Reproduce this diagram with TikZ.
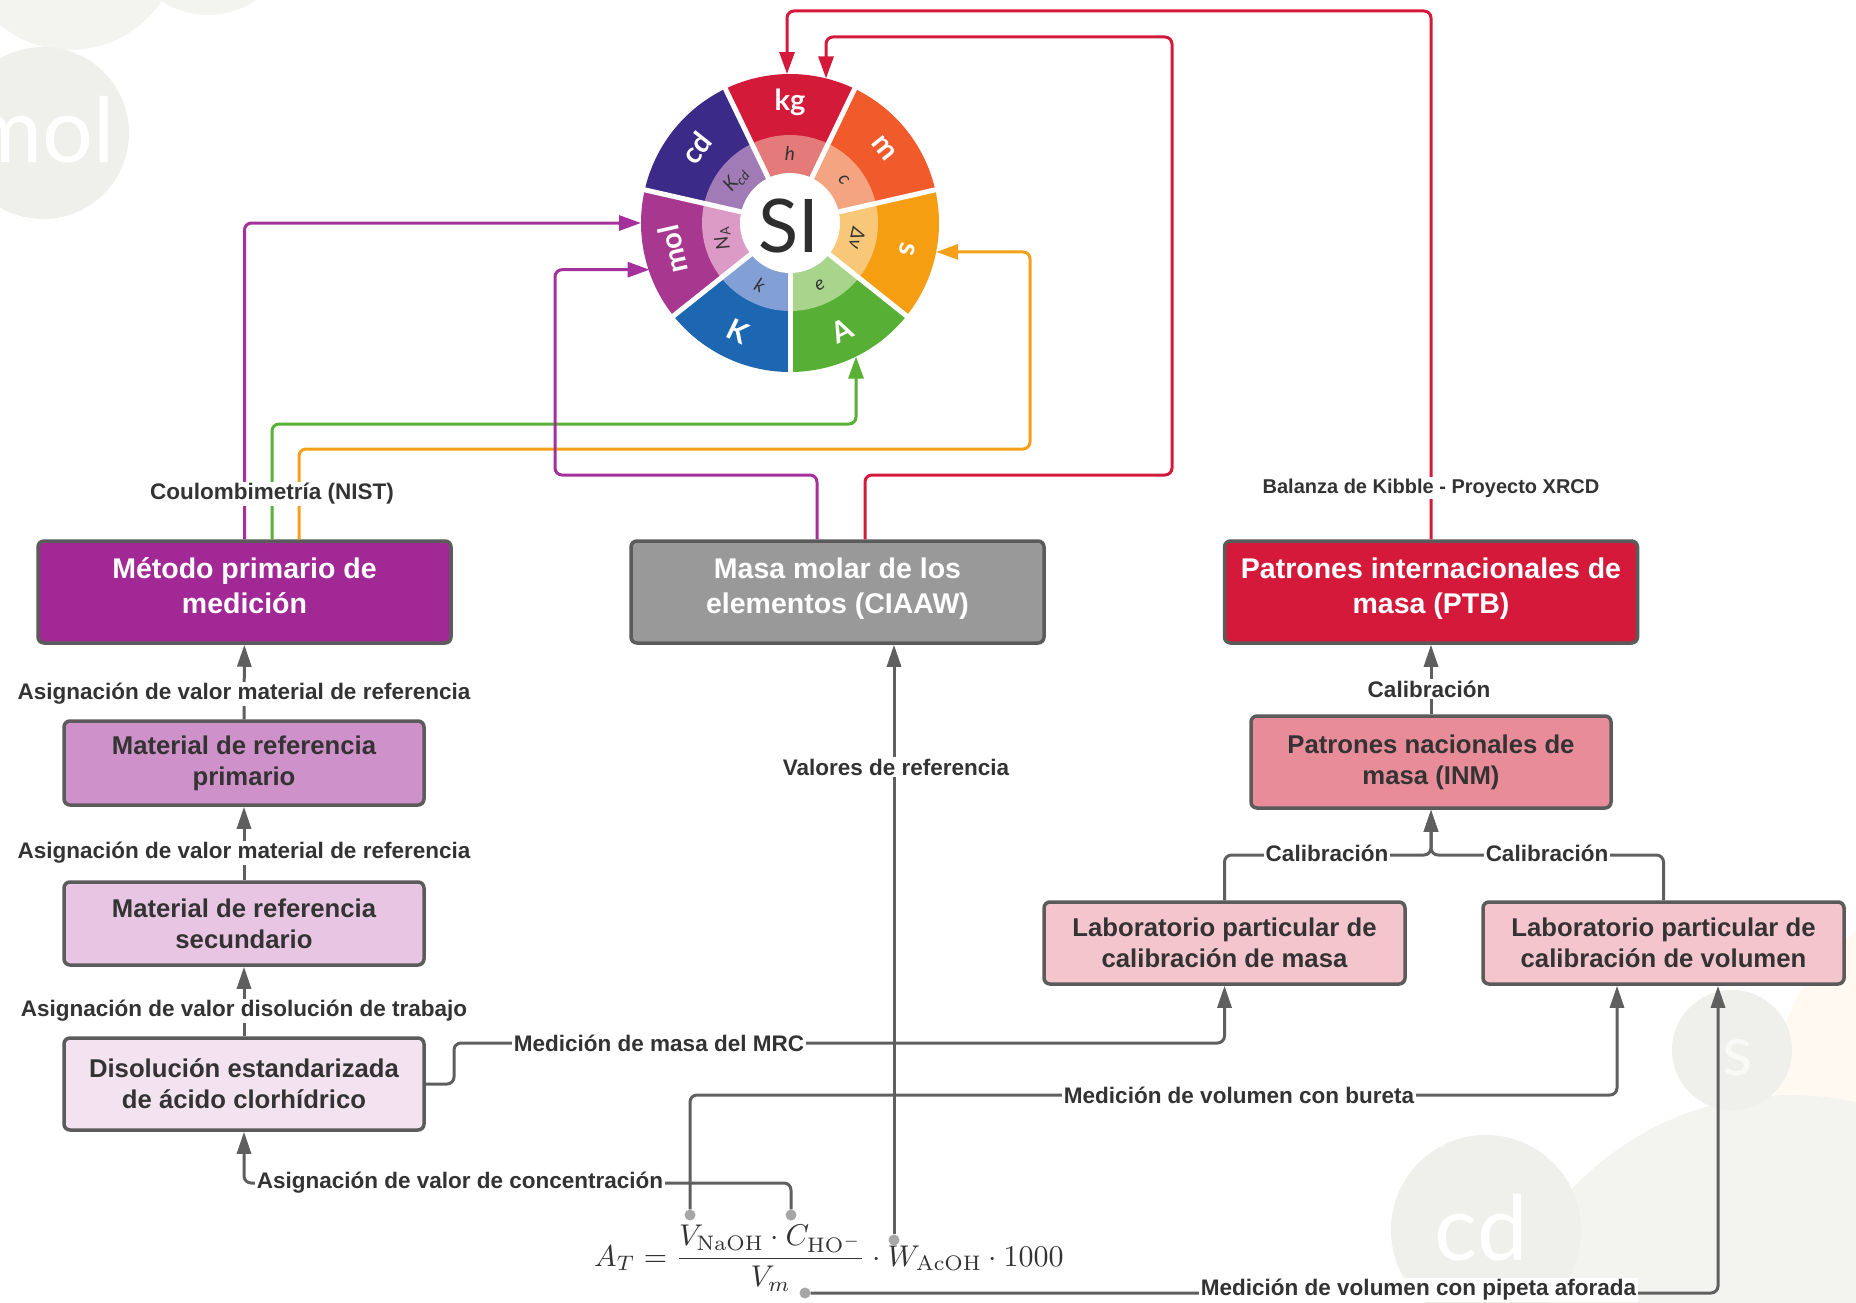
\documentclass[tikz,border=0pt]{standalone}
\usepackage{fontspec}
\usepackage{amsmath}
\usepackage{graphicx}
\usetikzlibrary{arrows.meta,calc}
\newfontfamily\labf{Liberation Sans}
\newfontfamily\latof{Lato}
\definecolor{kgD}{HTML}{D31A38}\definecolor{kgL}{HTML}{E47B7A}
\definecolor{mD}{HTML}{F15A2B}\definecolor{mL}{HTML}{F4A480}
\definecolor{sD}{HTML}{F59E12}\definecolor{sL}{HTML}{F8C777}
\definecolor{aD}{HTML}{57B035}\definecolor{aL}{HTML}{A9D48B}
\definecolor{KD}{HTML}{1C66B2}\definecolor{KL}{HTML}{82A0D5}
\definecolor{molD}{HTML}{A8388F}\definecolor{molL}{HTML}{DC9BC7}
\definecolor{cdD}{HTML}{3B2A87}\definecolor{cdL}{HTML}{A07BB6}
\definecolor{metF}{HTML}{A22895}
\definecolor{mrpF}{HTML}{CF91C9}
\definecolor{mrsF}{HTML}{E8C6E3}
\definecolor{disF}{HTML}{F3E3F1}
\definecolor{masF}{HTML}{999999}
\definecolor{pinF}{HTML}{D4193A}
\definecolor{pnaF}{HTML}{E88C99}
\definecolor{labF}{HTML}{F4C5CC}
\definecolor{bord}{HTML}{5B5B5B}
\definecolor{lineg}{HTML}{5F5F5F}
\definecolor{txt}{HTML}{333333}
\definecolor{lpur}{HTML}{A5309C}
\definecolor{lgrn}{HTML}{58B135}
\definecolor{lorg}{HTML}{F6A01A}
\definecolor{lred}{HTML}{D4193A}
\definecolor{wmA}{HTML}{F3F3F0}
\definecolor{wmB}{HTML}{EFEFEC}
\newcommand\siwedge[3]{%
  \fill[#2] (si.center) -- ++({#1-25.714}:149) arc[start angle={#1-25.714}, end angle={#1+25.714}, radius=149] -- cycle;
  \fill[#3] (si.center) -- ++({#1-25.714}:88) arc[start angle={#1-25.714}, end angle={#1+25.714}, radius=88] -- cycle;}
\tikzset{
  boxbase/.style={draw=bord, line width=3.5pt, rounded corners=6pt, align=center, inner sep=2pt},
  bigbox/.style={boxbase, minimum width=413pt, minimum height=102pt, text depth=13pt, font=\labf\bfseries\fontsize{28.5}{34.4}\selectfont},
  smallbox/.style={boxbase, minimum width=360pt, font=\labf\bfseries\fontsize{25.7}{31}\selectfont, text=txt},
  lbl/.style={fill=white, inner sep=1.5pt, text=txt, font=\labf\bfseries\fontsize{22.5}{26}\selectfont},
  garr/.style={draw=lineg, line width=3pt, rounded corners=7pt, -{Triangle[length=22pt,width=14pt]}},
  carr/.style={line width=3pt, rounded corners=7pt, -{Triangle[length=22pt,width=15pt]}},
  dotn/.style={circle, fill=black!35, minimum size=11pt, inner sep=0pt},
  whl/.style={text=white, font=\latof\bfseries\fontsize{29}{30}\selectfont, inner sep=0pt},
  inl/.style={text=txt, font=\latof\itshape\fontsize{19}{20}\selectfont, inner sep=0pt},
}
\begin{document}
\begin{tikzpicture}[x=1pt,y=1pt]
\useasboundingbox (0,-1303) rectangle (1856,0);
\fill[white] (0,-1303) rectangle (1856,0);
% faint watermark circles
\begin{scope}
\clip (0,-1303) rectangle (1856,0);
\fill[wmA] (70,60) circle (110);
\fill[wmA] (208,70) circle (85);
\fill[wmB] (43,-133) circle (86);
\node[anchor=base, text=white, font=\latof\fontsize{90}{90}\selectfont] at (42,-163) {mol};
\fill[orange!5] (1960,-1085) circle (185);
\fill[wmA] (1790,-1395) circle (300);
\fill[wmB] (1732,-1050) circle (60);
\node[anchor=base, text=white!60!wmB, font=\latof\fontsize{70}{70}\selectfont] at (1738,-1075) {s};
\fill[wmB] (1486,-1230) circle (95);
\node[anchor=base, text=white, font=\latof\fontsize{90}{90}\selectfont] at (1481,-1260) {cd};
\end{scope}
% SI wheel
\node[circle, minimum size=298pt, inner sep=0pt] (si) at (790,-223) {};
\siwedge{90}{kgD}{kgL}
\siwedge{38.571}{mD}{mL}
\siwedge{-12.857}{sD}{sL}
\siwedge{-64.286}{aD}{aL}
\siwedge{-115.714}{KD}{KL}
\siwedge{-167.143}{molD}{molL}
\siwedge{141.429}{cdD}{cdL}
\fill[white] (si.center) circle (50);
\foreach \a in {64.286,115.714,167.143,218.571,270,321.429,12.857}
  \draw[white, line width=5pt] (si.center) -- ++(\a:152);
\node[whl] at ($(si.center)+(90:121)$) {kg};
\node[whl, rotate=-51.43] at ($(si.center)+(38.571:120)$) {m};
\node[whl, rotate=-102.86] at ($(si.center)+(-12.857:120)$) {s};
\node[whl, rotate=25.71] at ($(si.center)+(-64.286:120)$) {A};
\node[whl, rotate=-25.71] at ($(si.center)+(-115.714:120)$) {K};
\node[whl, rotate=102.86] at ($(si.center)+(192.857:120)$) {mol};
\node[whl, rotate=51.43] at ($(si.center)+(141.429:120)$) {cd};
\node[inl] at ($(si.center)+(90:69)$) {h};
\node[inl, rotate=-51.43] at ($(si.center)+(38.571:69)$) {c};
\node[inl, rotate=-102.86] at ($(si.center)+(-12.857:69)$) {Δν};
\node[inl, rotate=25.71] at ($(si.center)+(-64.286:69)$) {e};
\node[inl, rotate=-25.71] at ($(si.center)+(-115.714:69)$) {k};
\node[inl, rotate=102.86] at ($(si.center)+(192.857:69)$) {N\textsubscript{A}};
\node[inl, rotate=51.43] at ($(si.center)+(141.429:69)$) {K\textsubscript{cd}};
\node[text=black!82, font=\latof\fontsize{74}{74}\selectfont, inner sep=0pt] (sit) at (789,-226) {SI};
% wheel targets
\coordinate (siKg1) at ($(si.center)+(91.15:149)$);
\coordinate (siKg2) at ($(si.center)+(76.0:149)$);
\coordinate (siMol1) at ($(si.center)+(180:149)$);
\coordinate (siMol2) at ($(si.center)+(198.4:148)$);
\coordinate (siS) at ($(si.center)+(-11.2:149)$);
\coordinate (siA) at ($(si.center)+(-63.7:149)$);
% boxes
\node[bigbox, fill=metF, text=white] (metodo) at (244.5,-592) {Método primario de\\medición};
\node[smallbox, fill=mrpF, minimum height=84pt] (mrp) at (244,-763) {Material de referencia\\primario};
\node[smallbox, fill=mrsF, minimum height=83pt] (mrs) at (244,-923.5) {Material de referencia\\secundario};
\node[smallbox, fill=disF, minimum height=92pt] (disol) at (244,-1084) {Disolución estandarizada\\de ácido clorhídrico};
\node[bigbox, fill=masF, text=white] (masa) at (837.5,-592) {Masa molar de los\\elementos (CIAAW)};
\node[bigbox, fill=pinF, text=white] (pint) at (1431,-592) {Patrones internacionales de\\masa (PTB)};
\node[smallbox, fill=pnaF, minimum height=92pt] (pnac) at (1431,-762) {Patrones nacionales de\\masa (INM)};
\node[smallbox, fill=labF, minimum height=82pt, minimum width=361pt] (labm) at (1224.5,-943) {Laboratorio particular de\\calibración de masa};
\node[smallbox, fill=labF, minimum height=82pt, minimum width=361pt] (labv) at (1663.5,-943) {Laboratorio particular de\\calibración de volumen};
% equation and its anchor dots
\node[anchor=base west, inner sep=0pt, text=black!80] (eq) at (594,-1266) {\scalebox{3.0}{$\displaystyle A_T=\frac{V_{\mathrm{NaOH}}\cdot C_{\mathrm{HO}^-}}{V_m}\cdot W_{\mathrm{AcOH}}\cdot 1000$}};
\node[dotn] (dV) at (690,-1215) {};
\node[dotn] (dC) at (791,-1215) {};
\node[dotn] (dW) at (894,-1240) {};
\node[dotn] (dVm) at (805,-1293) {};
% helper coordinates
\coordinate (yg) at (0,-424);
\coordinate (yo) at (1030,-449);
\coordinate (yp) at (555,-475);
\coordinate (yr) at (1172,-475);
\coordinate (yr2) at (826,-37);
\coordinate (yk) at (787,-11);
\coordinate (ym) at (454,-1043);
\coordinate (yb) at (0,-1095);
\coordinate (yc) at (0,-1183);
\coordinate (ycal) at (0,-855);
\coordinate (lvA) at ($(labv.south)+(-46.5,0)$);
\coordinate (lvB) at ($(labv.south)+(54.5,0)$);
% coloured connectors to the SI wheel
\draw[carr, lpur] (metodo.north) |- (siMol1);
\draw[carr, lgrn] ($(metodo.north)+(27.5,0)$) |- (siA |- yg) -- (siA);
\draw[carr, lorg] ($(metodo.north)+(54.5,0)$) |- (yo) |- (siS);
\draw[carr, lpur] ($(masa.north)+(-20.5,0)$) |- (yp) |- (siMol2);
\draw[carr, lred] ($(masa.north)+(27.5,0)$) |- (yr) |- (yr2) -- (siKg2);
\draw[carr, lred] (pint.north) |- (yk) -- (siKg1);
% grey connectors
\draw[garr] (mrp) -- (metodo);
\draw[garr] (mrs) -- (mrp);
\draw[garr] (disol) -- (mrs);
\draw[garr] (dW) -- (dW |- masa.south);
\draw[garr] (disol.east) -- (disol.east -| ym) |- (labm.south |- ym) -- (labm.south);
\draw[garr] (dV) |- (lvA |- yb) -- (lvA);
\draw[garr] (dVm) -| (lvB);
\draw[garr] (dC) |- (disol.south |- yc) -- (disol.south);
\draw[garr] (pnac) -- (pint);
\draw[garr] (labm.north) |- (pnac.south |- ycal) -- (pnac.south);
\draw[garr] (labv.north) |- (pnac.south |- ycal) -- (pnac.south);
% labels
\node[lbl] at (272,-494) {Coulombimetría (NIST)};
\node[lbl, font=\labf\bfseries\fontsize{20}{24}\selectfont] at (1431,-488) {Balanza de Kibble - Proyecto XRCD};
\node[lbl] at (244,-694) {Asignación de valor material de referencia};
\node[lbl] at (244,-853) {Asignación de valor material de referencia};
\node[lbl] at (244,-1011) {Asignación de valor disolución de trabajo};
\node[lbl] at (896,-767) {Valores de referencia};
\node[lbl] at (1429,-689) {Calibración};
\node[lbl] at (1327,-853) {Calibración};
\node[lbl] at (1547,-853) {Calibración};
\node[lbl] at (659,-1043) {Medición de masa del MRC};
\node[lbl] at (1239,-1095) {Medición de volumen con bureta};
\node[lbl] at (460,-1183) {Asignación de valor de concentración};
\node[lbl] at (1418.5,-1290) {Medición de volumen con pipeta aforada};
\end{tikzpicture}
\end{document}
